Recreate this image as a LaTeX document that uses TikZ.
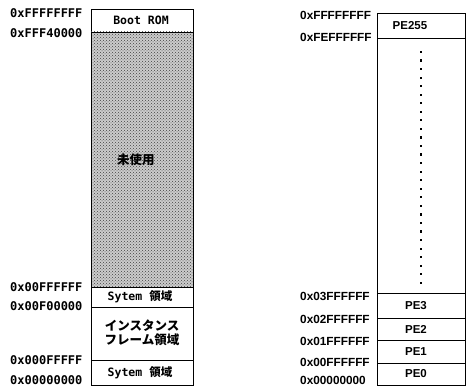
\documentclass[tikz,border=0pt]{standalone}
\usepackage{fontspec}
\usetikzlibrary{patterns}
\newfontfamily\jp{Noto Sans CJK JP}
\newfontfamily\lmono{DejaVu Sans Mono}
\newfontfamily\lsans{Liberation Sans}
\tikzset{
  box/.style={draw=black, line width=0.8pt, rectangle, inner sep=0pt, minimum width=#1},
  lbox/.style={box=102pt},
  rbox/.style={box=88pt},
  laddr/.style={anchor=west, inner sep=0pt, font=\lmono\bfseries\fontsize{12}{12}\selectfont},
  raddr/.style={anchor=west, inner sep=0pt, font=\lsans\bfseries\fontsize{11.8}{12}\selectfont},
  ltxt/.style={inner sep=0pt, font=\lmono\bfseries\fontsize{11.5}{12}\selectfont},
  jtxt/.style={inner sep=0pt, align=center, font=\jp\bfseries\fontsize{12.5}{14}\selectfont},
  petxt/.style={inner sep=0pt, font=\lsans\bfseries\fontsize{11.5}{12}\selectfont},
  vdot/.style={fill=black, minimum size=2.2pt, inner sep=0pt, rectangle},
  shade/.style={preaction={fill=black!20}, pattern=crosshatch dots, pattern color=black!75}
}
\begin{document}
\begin{tikzpicture}[x=1pt,y=-1pt]
\useasboundingbox (0,0) rectangle (467,387);
% left memory map
\node[lbox, minimum height=23pt] (boot) at (142,20.5) {};
\node[lbox, minimum height=255pt, shade] (unused) at (142,159.5) {};
\node[lbox, minimum height=20pt] (sys1) at (142,297) {};
\node[lbox, minimum height=53pt] (inst) at (142,333.5) {};
\node[lbox, minimum height=25pt] (sys0) at (142,372.5) {};
\node[ltxt] (tboot) at (141,20.5) {Boot ROM};
\node[jtxt] (tunused) at (136,160) {未使用};
\node[ltxt] (tsys1) at (140,297) {Sytem {\jp\bfseries 領域}};
\node[jtxt] (tinst) at (142,333) {インスタンス\\フレーム領域};
\node[ltxt] (tsys0) at (140,372.5) {Sytem {\jp\bfseries 領域}};
\node[laddr] (a1) at (10,13) {0xFFFFFFFF};
\node[laddr] (a2) at (10,33) {0xFFF40000};
\node[laddr] (a3) at (10,287) {0x00FFFFFF};
\node[laddr] (a4) at (10,306) {0x00F00000};
\node[laddr] (a5) at (10,360) {0x000FFFFF};
\node[laddr] (a6) at (10,380) {0x00000000};
% right memory map
\node[rbox, minimum height=25pt] (pe255) at (421,25.5) {};
\node[rbox, minimum height=255pt] (pemid) at (421,165.5) {};
\node[rbox, minimum height=25pt] (pe3) at (421,305.5) {};
\node[rbox, minimum height=22pt] (pe2) at (421,329) {};
\node[rbox, minimum height=23pt] (pe1) at (421,351.5) {};
\node[rbox, minimum height=22pt] (pe0) at (421,374) {};
\node[petxt] (tpe255) at (410,25.5) {PE255};
\node[petxt] (tpe3) at (416,305.5) {PE3};
\node[petxt] (tpe2) at (416,329) {PE2};
\node[petxt] (tpe1) at (416,351.5) {PE1};
\node[petxt] (tpe0) at (416,374) {PE0};
\foreach \i in {0,...,27} {
  \node[vdot] (d\i) at (421,{52+\i*8.55}) {};
}
\node[raddr] (b1) at (300,15) {0xFFFFFFFF};
\node[raddr] (b2) at (300,37) {0xFEFFFFFF};
\node[raddr] (b3) at (300,296) {0x03FFFFFF};
\node[raddr] (b4) at (300,319) {0x02FFFFFF};
\node[raddr] (b5) at (300,341) {0x01FFFFFF};
\node[raddr] (b6) at (300,362) {0x00FFFFFF};
\node[raddr] (b7) at (300,380) {0x00000000};
\end{tikzpicture}
\end{document}
